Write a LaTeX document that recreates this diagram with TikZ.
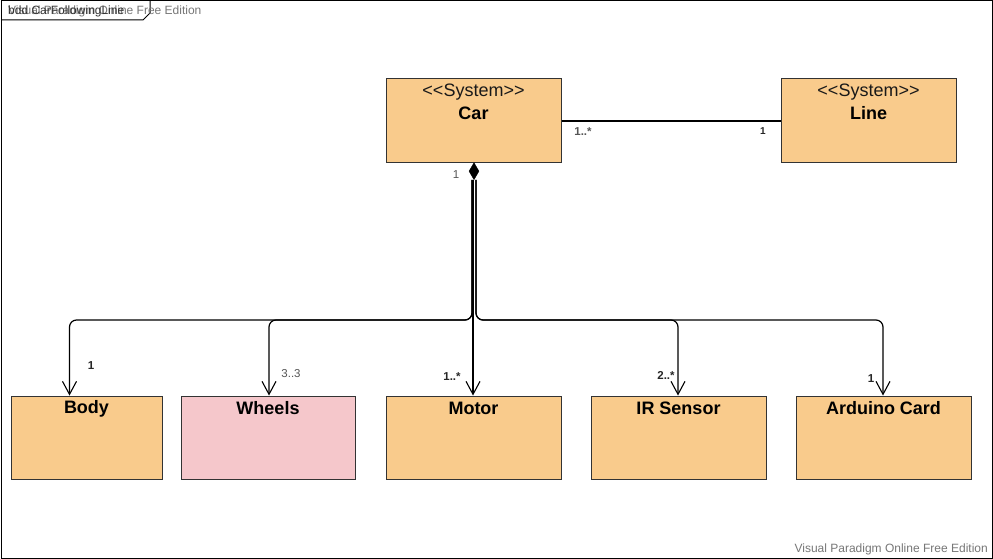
\documentclass[tikz,border=0pt]{standalone}
\usepackage{fontspec}
\setmainfont{Liberation Sans}
\usetikzlibrary{arrows.meta,shapes.geometric}
\definecolor{blockorange}{HTML}{F9CB8C}
\definecolor{blockpink}{HTML}{F5C7CB}
\definecolor{edgegray}{HTML}{333333}
\definecolor{markgray}{HTML}{555555}
\definecolor{wmgray}{HTML}{777777}
\tikzset{
  block/.style={draw=edgegray,line width=1pt,fill=blockorange,minimum height=83pt,inner sep=0pt},
  stereo/.style={font=\fontsize{18}{21}\selectfont,inner sep=0pt,text=black!90},
  bname/.style={font=\fontsize{18}{21}\selectfont\bfseries,inner sep=0pt},
  mult/.style={font=\fontsize{11.5}{13}\selectfont,inner sep=0pt,text=markgray},
  multb/.style={font=\fontsize{11.5}{13}\selectfont\bfseries,inner sep=0pt,text=black!85},
  wm/.style={font=\fontsize{12}{14}\selectfont,inner sep=0pt,text=wmgray},
  conn/.style={line width=1.2pt,draw=black,rounded corners=7pt},
  arr/.style={conn,-{Straight Barb[length=13pt,width=14pt,line width=1.1pt]}}
}
\begin{document}
\begin{tikzpicture}[x=1pt,y=-1pt]
\useasboundingbox (0,0) rectangle (993,559);
\fill[white] (0,0) rectangle (993,559);
% frame
\draw[line width=1pt,black] (1,1) rectangle (992,558);
\draw[line width=1pt,black] (1,20) -- (143,20) -- (150,13) -- (150,1);
\node[wm,anchor=west] (wmtop) at (8,11) {Visual Paradigm Online Free Edition};
\node[font=\fontsize{12}{14}\selectfont,inner sep=0pt,anchor=west,text=black!80] (frametitle) at (8,11) {bdd CarFollowingLine};
\node[wm,anchor=east] (wmbot) at (988,549) {Visual Paradigm Online Free Edition};
% blocks
\node[block,minimum width=175pt] (car) at (473.5,120.5) {};
\node[stereo] (carst) at ([yshift=-14]car.north) {{<}{<}System{>}{>}};
\node[bname] (carnm) at ([yshift=-35]car.north) {Car};
\node[block,minimum width=175pt] (line) at (868.5,120.5) {};
\node[stereo] (linest) at ([yshift=-14]line.north) {{<}{<}System{>}{>}};
\node[bname] (linenm) at ([yshift=-35]line.north) {Line};
\node[block,minimum width=151pt] (body) at (86.5,437.5) {};
\node[bname] (bodynm) at ([yshift=-13]body.north) {Body};
\node[block,minimum width=174pt,fill=blockpink] (wheels) at (268,437.5) {};
\node[bname] (wheelsnm) at ([yshift=-13]wheels.north) {Wheels};
\node[block,minimum width=175pt] (motor) at (473.5,437.5) {};
\node[bname] (motornm) at ([yshift=-13]motor.north) {Motor};
\node[block,minimum width=175pt] (ir) at (678.5,437.5) {};
\node[bname] (irnm) at ([yshift=-13]ir.north) {IR Sensor};
\node[block,minimum width=175pt] (ard) at (883.5,437.5) {};
\node[bname] (ardnm) at ([yshift=-13]ard.north) {Arduino Card};
% association Car - Line
\draw[line width=1.2pt,black] (car.east |- 0,121) -- (line.west |- 0,121);
\node[multb,text=markgray] (m1) at (583,132) {1..*};
\node[multb,font=\fontsize{10}{12}\selectfont\bfseries] (m2) at (763,131) {1};
% composition
\node[diamond,fill=black,draw=black,minimum width=10pt,minimum height=17pt,inner sep=0pt,anchor=north] (diam) at ([xshift=0.5]car.south) {};
\node[mult] (mc) at (456,175) {1};
\coordinate (bus) at (0,320);
\coordinate (bodyin) at ([xshift=59]body.north west);
\coordinate (wheelsin) at ([xshift=1]wheels.north);
\coordinate (motorin) at ([xshift=-0.5]motor.north);
\coordinate (irin) at ([xshift=-0.5]ir.north);
\coordinate (ardin) at ([xshift=-0.5]ard.north);
\coordinate (dl) at ([xshift=-2]diam.south);
\coordinate (dr) at ([xshift=2]diam.south);
\draw[arr] (dl) -- (dl |- bus) -- (bodyin |- bus) -- (bodyin);
\draw[arr] (dl) -- (dl |- bus) -- (wheelsin |- bus) -- (wheelsin);
\draw[arr] (motorin |- diam.south) -- (motorin);
\draw[arr] (dr) -- (dr |- bus) -- (irin |- bus) -- (irin);
\draw[arr] (dr) -- (dr |- bus) -- (ardin |- bus) -- (ardin);
% multiplicities
\node[multb] (mb) at (91,366) {1};
\node[mult] (mw) at (291,374) {3..3};
\node[multb] (mm) at (452,377) {1..*};
\node[multb] (mi) at (666,375) {2..*};
\node[multb] (ma) at (871,379) {1};
\end{tikzpicture}
\end{document}
